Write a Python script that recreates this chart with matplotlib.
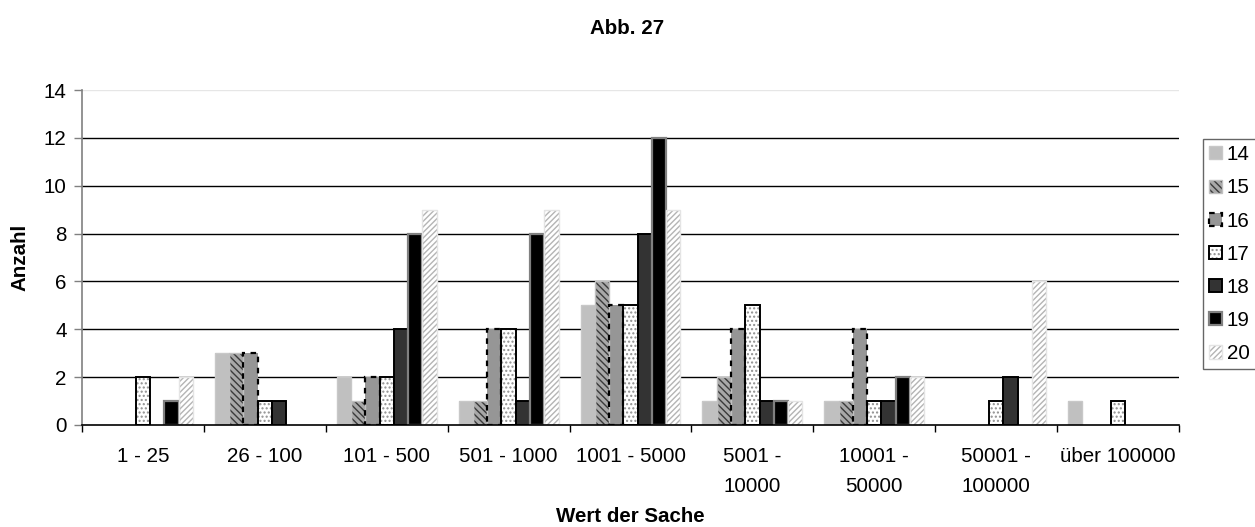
import matplotlib
matplotlib.use("Agg")
import matplotlib.pyplot as plt
import numpy as np
from matplotlib.patches import Rectangle

plt.rcParams['font.family'] = ['Liberation Sans', 'DejaVu Sans']
plt.rcParams['hatch.linewidth'] = 1.0

categories = ["1 - 25", "26 - 100", "101 - 500", "501 - 1000", "1001 - 5000",
              "5001 -\n10000", "10001 -\n50000", "50001 -\n100000", "über 100000"]
series_names = ["14", "15", "16", "17", "18", "19", "20"]
s14 = [0, 3, 2, 1, 5, 1, 1, 0, 1]
s15 = [0, 3, 1, 1, 6, 2, 1, 0, 0]
s16 = [0, 3, 2, 4, 5, 4, 4, 0, 0]
s17 = [2, 1, 2, 4, 5, 5, 1, 1, 1]
s18 = [0, 1, 4, 1, 8, 1, 1, 2, 0]
s19 = [1, 0, 8, 8, 12, 1, 2, 0, 0]
s20 = [2, 0, 9, 9, 9, 1, 2, 6, 0]
values = [s14, s15, s16, s17, s18, s19, s20]

# style: face, hatch, hatch colour, edge colour, line style, line width
styles = [
    dict(face="#c0c0c0", hatch=None, hc=None, edge="#c8c8c8", ls="-", lw=1.0),
    dict(face="#a8a8a8", hatch="\\\\\\\\\\", hc="#3a3a3a", edge="#c0c0c0", ls="-", lw=1.0),
    dict(face="#969696", hatch=None, hc=None, edge="black", ls=(0, (2.5, 2.5)), lw=1.6),
    dict(face="white", hatch="....", hc="#909090", edge="black", ls="-", lw=1.4),
    dict(face="#333333", hatch=None, hc=None, edge="black", ls="-", lw=1.4),
    dict(face="black", hatch=None, hc=None, edge="#808080", ls="-", lw=1.6),
    dict(face="white", hatch="//////", hc="#b4b4b4", edge="#e4e4e4", ls="-", lw=1.0),
]

FS = 14.8

fig = plt.figure(figsize=(12.55, 5.27), dpi=100)
ax = fig.add_axes([82/1255, 1-425/527, (1179-82)/1255, (425-90)/527])

x = np.arange(len(categories))
w = 0.117
for j, (vals, st) in enumerate(zip(values, styles)):
    pos = x + (j - 3) * w
    b1 = ax.bar(pos, vals, width=w, color=st["face"],
                edgecolor=st["hc"] if st["hatch"] else st["face"],
                linewidth=0, hatch=st["hatch"], zorder=3)
    b2 = ax.bar(pos, vals, width=w, fill=False, edgecolor=st["edge"], linewidth=st["lw"],
                linestyle=st["ls"], zorder=4)
    for v, r2 in zip(vals, b2.patches):
        if v == 0:
            r2.set_visible(False)

ax.set_xlim(-0.5, len(categories) - 0.5)
ax.set_ylim(0, 14)
ax.set_yticks(np.arange(0, 15, 2))
for yv in range(2, 13, 2):
    ax.axhline(yv, color="black", lw=1.0, zorder=1)
ax.axhline(14, color="#e6e6e6", lw=1.0, zorder=1)

ax.set_xticks(x)
ax.set_xticklabels(categories, fontsize=FS, linespacing=1.7)
ax.set_xticks(np.arange(-0.5, len(categories), 1.0), minor=True)
ax.tick_params(axis="x", which="major", length=0, pad=16)
ax.tick_params(axis="x", which="minor", length=5, color="black", width=1)
ax.tick_params(axis="y", length=6, color="#808080", width=1, labelsize=FS, pad=5)

for s in ["top", "right"]:
    ax.spines[s].set_visible(False)
ax.spines["left"].set_color("#808080")
ax.spines["left"].set_linewidth(1.2)
ax.spines["bottom"].set_color("black")
ax.spines["bottom"].set_linewidth(1.2)
ax.spines["bottom"].set_zorder(5)

ax.set_ylabel("Anzahl", fontsize=FS, fontweight="bold", labelpad=10)
ax.set_xlabel("Wert der Sache", fontsize=FS, fontweight="bold", labelpad=8)
fig.text(627/1255, 1-28/527, "Abb. 27", ha="center", va="center", fontsize=FS, fontweight="bold")

proxies = []
for st in styles:
    p1 = Rectangle((0, 0), 1, 1, facecolor=st["face"],
                   edgecolor=st["hc"] if st["hatch"] else st["face"],
                   linewidth=0, hatch=st["hatch"])
    p2 = Rectangle((0, 0), 1, 1, fill=False, edgecolor=st["edge"], linewidth=st["lw"], linestyle=st["ls"])
    proxies.append((p1, p2))

leg = fig.legend(proxies, series_names, loc="upper left",
                 bbox_to_anchor=(1203/1255, 1-139/527), frameon=True, fancybox=False,
                 fontsize=FS, handlelength=0.6, handleheight=0.6, handletextpad=0.25,
                 labelspacing=0.69, borderpad=0.3, borderaxespad=0)
leg.get_frame().set_edgecolor("#404040")
leg.get_frame().set_linewidth(1.0)

fig.savefig("out.png", dpi=100)
